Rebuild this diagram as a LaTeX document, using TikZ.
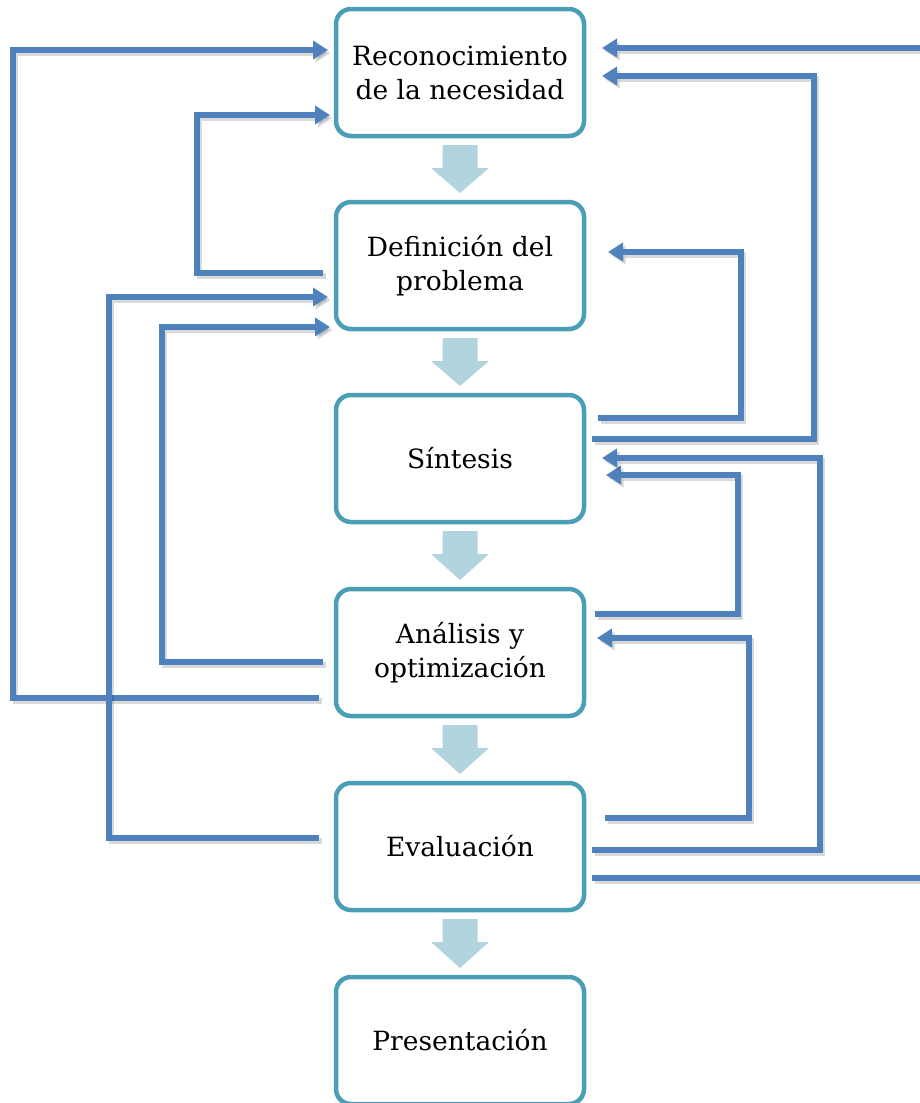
\documentclass[tikz,border=0pt]{standalone}
\usepackage{fontspec}
\setmainfont{DejaVu Serif}
\usetikzlibrary{arrows.meta,calc}
\definecolor{boxline}{RGB}{74,158,181}
\definecolor{fbline}{RGB}{79,129,189}
\definecolor{flowfill}{RGB}{178,212,223}
\tikzset{
  stage/.style={draw=boxline, line width=4.5pt, rounded corners=15pt, fill=white,
    minimum width=248pt, minimum height=127pt, outer sep=0pt, inner sep=0pt,
    align=center, font=\fontsize{26.5}{34}\selectfont},
  fb/.style={draw=fbline, line width=5.5pt,
    preaction={draw=black, opacity=0.15, line width=5.5pt, transform canvas={shift={(2.5pt,-3pt)}}}},
  fbarrow/.style={fb, -{Triangle[length=15pt,width=18pt]},
    preaction={-{Triangle[length=15pt,width=18pt]}}},
  flow/.style={fill=flowfill, draw=none}
}
\begin{document}
\begin{tikzpicture}[x=1pt,y=-1pt]
\useasboundingbox (0,0) rectangle (920,1103);

% process stages
\node[stage] (b1) at (460,72.5)  {Reconocimiento\\de la necesidad};
\node[stage] (b2) at (460,265.5) {Definición del\\problema};
\node[stage] (b3) at (460,458.5) {Síntesis};
\node[stage] (b4) at (460,652.5) {Análisis y\\optimización};
\node[stage] (b5) at (460,846.5) {Evaluación};
\node[stage] (b6) at (460,1040.5) {Presentación};

% block arrows between consecutive stages
\foreach \a/\b in {b1/b2,b2/b3,b3/b4,b4/b5,b5/b6}{
  \fill[flow] ($(\a.south)+(-17.5,9)$) -- ($(\a.south)+(17.5,9)$)
    -- ($(\a.south)+(17.5,32)$) -- ($(\a.south)+(29,32)$)
    -- ($(\b.north)+(0,-9)$)
    -- ($(\a.south)+(-29,32)$) -- ($(\a.south)+(-17.5,32)$) -- cycle;
}

% feedback loops on the left
\draw[fbarrow] ($(b4.west)+(-17,45.5)$) -- ++(-306,0) |- ($(b1.west)+(-8,-22.5)$);
\draw[fbarrow] ($(b2.west)+(-13,7.5)$) -- ++(-126,0) |- ($(b1.west)+(-6,42.5)$);
\draw[fbarrow] ($(b5.west)+(-17,-8.5)$) -- ++(-210,0) |- ($(b2.west)+(-8,31.5)$);
\draw[fbarrow] ($(b4.west)+(-13,9.5)$) -- ++(-161,0) |- ($(b2.west)+(-6,61.5)$);

% feedback loops on the right
\coordinate (outR) at (922,878);
\coordinate (inR) at (922,48);
\draw[fb] ($(b5.east)+(8,31.5)$) -- (outR);
\draw[fbarrow] (inR) -- ($(b1.east)+(18,-24.5)$);
\draw[fbarrow] ($(b3.east)+(8,-19.5)$) -- ++(222,0) |- ($(b1.east)+(18,3.5)$);
\draw[fbarrow] ($(b3.east)+(14,-40.5)$) -- ++(143,0) |- ($(b2.east)+(24,-13.5)$);
\draw[fbarrow] ($(b4.east)+(11,-38.5)$) -- ++(143,0) |- ($(b3.east)+(22,16.5)$);
\draw[fbarrow] ($(b5.east)+(8,3.5)$) -- ++(228,0) |- ($(b3.east)+(18,-0.5)$);
\draw[fbarrow] ($(b5.east)+(21,-28.5)$) -- ++(144,0) |- ($(b4.east)+(13,-14.5)$);
\end{tikzpicture}
\end{document}
